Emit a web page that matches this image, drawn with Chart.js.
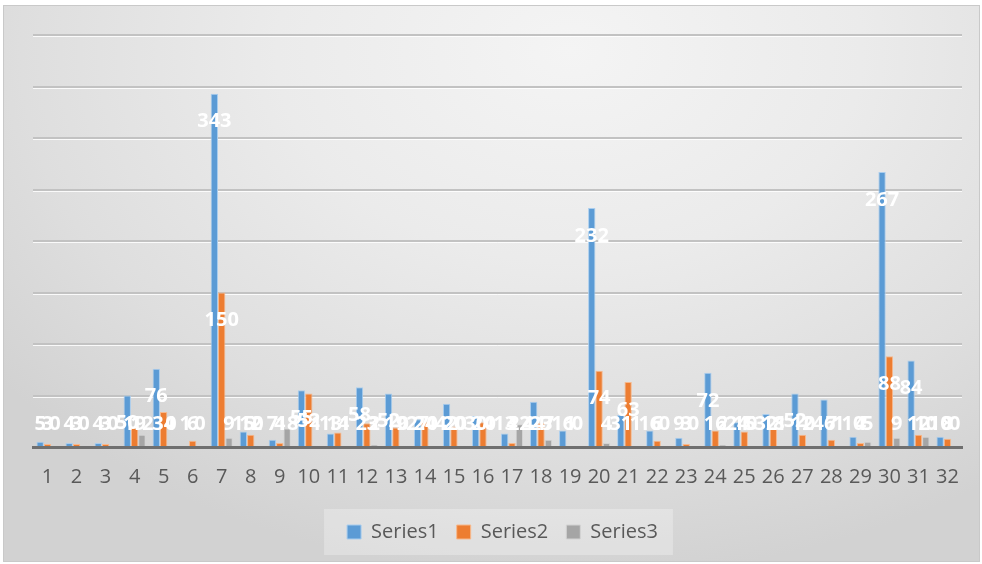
<!DOCTYPE html>
<html>
<head>
<meta charset="utf-8">
<script src="https://cdn.jsdelivr.net/npm/chart.js@4.4.1/dist/chart.umd.min.js"></script>
<style>
  html, body { margin: 0; padding: 0; width: 982px; height: 564px; overflow: hidden; background: #ffffff; }
  #frame {
    position: absolute; left: 3px; top: 5px; width: 975px; height: 555px;
    border: 1px solid #c9c9c9;
    background: radial-gradient(ellipse 75% 95% at 58% 8%, #f4f4f4 0%, #ebebeb 40%, #dedede 75%, #d2d2d2 100%);
  }
  #wrap { position: absolute; left: 22px; top: 0px; width: 960px; height: 564px; }
</style>
</head>
<body>
<div id="frame"></div>
<div id="wrap"><canvas id="c" width="960" height="564"></canvas></div>
<script>
const categories = ['1','2','3','4','5','6','7','8','9','10','11','12','13','14','15','16','17','18','19','20','21','22','23','24','25','26','27','28','29','30','31','32'];
const series1 = [5,4,4,50,76,1,343,15,7,55,13,58,52,27,42,30,13,44,16,232,31,16,9,72,24,32,52,46,10,267,84,10];
const series2 = [3,3,3,19,34,6,150,12,4,52,14,23,19,24,20,24,4,23,1,74,63,6,3,16,15,18,12,7,4,88,12,8];
const series3 = [0,0,0,12,0,0,9,0,18,1,1,2,0,0,0,0,22,7,0,4,1,0,0,2,0,1,0,1,5,9,10,0];
const seriesNames = ['Series1','Series2','Series3'];
const yTicksMax = 400;
const yTickStep = 50;

const FONT = "'Open Sans', 'Noto Sans', sans-serif";

const legendShift = {
  id: 'legendShift',
  afterLayout(chart) {
    if (chart.legend) { chart.legend.left += 5; chart.legend.right += 5; }
  }
};

const legendBg = {
  id: 'legendBg',
  beforeDraw(chart) {
    const hb = chart.legend && chart.legend.legendHitBoxes;
    if (!hb || !hb.length) return;
    const ctx = chart.ctx;
    let l = Infinity, r = -Infinity;
    hb.forEach(h => { l = Math.min(l, h.left); r = Math.max(r, h.left + h.width); });
    const cy = hb[0].top + hb[0].height / 2;
    ctx.save();
    ctx.fillStyle = 'rgba(255,255,255,0.28)';
    ctx.fillRect(l - 23, cy - 23, (r - l) + 38, 46);
    ctx.restore();
  }
};

const gridEmboss = {
  id: 'gridEmboss',
  beforeDatasetsDraw(chart) {
    const y = chart.scales.y;
    const ctx = chart.ctx;
    const a = chart.chartArea;
    ctx.save();
    ctx.strokeStyle = 'rgba(255,255,255,0.85)';
    ctx.lineWidth = 1;
    y.ticks.forEach(t => {
      if (t.value === 0) return;
      const py = Math.round(y.getPixelForValue(t.value)) + 1.5;
      ctx.beginPath();
      ctx.moveTo(a.left, py);
      ctx.lineTo(a.right, py);
      ctx.stroke();
    });
    ctx.restore();
  }
};

const valueLabels = {
  id: 'valueLabels',
  afterDatasetsDraw(chart) {
    const ctx = chart.ctx;
    const a = chart.chartArea;
    ctx.save();
    ctx.fillStyle = '#ffffff';
    ctx.font = "bold 20px " + FONT;
    ctx.textAlign = 'center';
    ctx.textBaseline = 'middle';
    chart.data.datasets.forEach((ds, di) => {
      const meta = chart.getDatasetMeta(di);
      meta.data.forEach((bar, i) => {
        const y = Math.min(bar.y + 28, a.bottom - 23);
        ctx.fillText(String(ds.data[i]), bar.x, y);
      });
    });
    ctx.restore();
  }
};

new Chart(document.getElementById('c'), {
  type: 'bar',
  data: {
    labels: categories,
    datasets: [
      { label: seriesNames[0], data: series1, backgroundColor: '#5b9bd5', borderColor: '#a9cdee', borderWidth: 1 },
      { label: seriesNames[1], data: series2, backgroundColor: '#ed7d31', borderColor: '#f7b98d', borderWidth: 1 },
      { label: seriesNames[2], data: series3, backgroundColor: '#a5a5a5', borderColor: '#d3d3d3', borderWidth: 1 }
    ]
  },
  options: {
    responsive: false,
    animation: false,
    devicePixelRatio: 1,
    layout: { padding: { left: 11, right: 20, top: 35, bottom: 12 } },
    datasets: { bar: { categoryPercentage: 0.76, barPercentage: 1.0 } },
    scales: {
      x: {
        grid: { display: false, drawTicks: false },
        border: { display: true, color: '#6f6f6f', width: 3 },
        ticks: { color: '#595959', font: { family: FONT, size: 20 }, padding: 18, maxRotation: 0, autoSkip: false },
        afterFit(s) { s.height = 57; }
      },
      y: {
        min: 0, max: yTicksMax,
        ticks: { display: false, stepSize: yTickStep },
        grid: { color: '#c2c2c2', lineWidth: 2, drawTicks: false },
        border: { display: false },
        afterFit(s) { s.width = 0; }
      }
    },
    plugins: {
      legend: {
        position: 'bottom',
        labels: {
          color: '#595959',
          font: { family: FONT, size: 20 },
          boxWidth: 14, boxHeight: 14, padding: 18
        }
      },
      tooltip: { enabled: false }
    }
  },
  plugins: [legendShift, legendBg, gridEmboss, valueLabels]
});
</script>
</body>
</html>
